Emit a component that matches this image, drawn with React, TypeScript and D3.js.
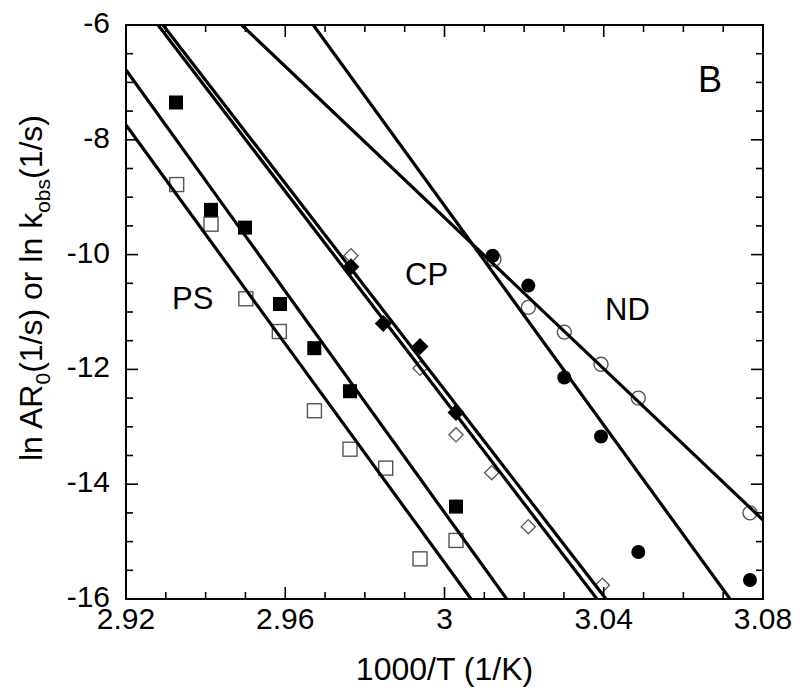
import React from "react";
import * as d3 from "d3";

const psFilledX = [2.93256, 2.94135, 2.94989, 2.95868, 2.9673, 2.97626, 3.00289];
const psFilledY = [-7.35, -9.22, -9.53, -10.86, -11.63, -12.38, -14.39];
const psOpenX = [2.93273, 2.94135, 2.9501, 2.95851, 2.96733, 2.97626, 2.98523, 2.99385, 3.00289];
const psOpenY = [-8.78, -9.47, -10.77, -11.34, -12.72, -13.39, -13.72, -15.3, -14.98];
const cpFilledX = [2.97651, 2.98463, 2.99385, 3.00289];
const cpFilledY = [-10.21, -11.2, -11.6, -12.75];
const cpOpenX = [2.97651, 2.99385, 3.00289, 3.01186, 3.02105, 3.03965];
const cpOpenY = [-10.02, -11.98, -13.14, -13.8, -14.74, -15.76];
const ndFilledX = [3.01209, 3.02105, 3.03009, 3.03931, 3.04868, 3.07673];
const ndFilledY = [-10.02, -10.54, -12.14, -13.17, -15.18, -15.67];
const ndOpenX = [3.01243, 3.02105, 3.03009, 3.03931, 3.04868, 3.07673];
const ndOpenY = [-10.08, -10.92, -11.35, -11.91, -12.5, -14.5];

// fitted lines: [x1, y1, x2, y2]
const fitPSOpen = [2.92, -7.742, 3.00666, -16];
const fitPSFilled = [2.92, -6.784, 3.01563, -16];
const fitCPa = [2.92804, -6, 3.03831, -16];
const fitCPb = [2.92929, -6, 3.04057, -16];
const fitNDOpen = [2.94906, -6, 3.08, -14.624];
const fitNDFilled = [2.96705, -6, 3.07172, -16];

const xTicks = [2.92, 2.96, 3.0, 3.04, 3.08];
const xTickLabels = ["2.92", "2.96", "3", "3.04", "3.08"];
const yTicks = [-6, -8, -10, -12, -14, -16];

const W = 800, H = 692;
const L = 126, T = 25, R = 763, B = 599;
const FONT = "'Liberation Sans', Arial, Helvetica, sans-serif";

export default function App() {
  const x = d3.scaleLinear().domain([2.92, 3.08]).range([L, R]);
  const y = d3.scaleLinear().domain([-16, -6]).range([B, T]);
  const line = d3.line<[number, number]>().x(d => x(d[0])).y(d => y(d[1]));

  const minorX = d3.range(0, 17).map(i => 2.92 + i * 0.01);
  const minorY = d3.range(0, 21).map(i => -16 + i * 0.5);
  const isMajorX = (v: number) => Math.abs(((v - 2.92) / 0.04) - Math.round((v - 2.92) / 0.04)) < 1e-6;
  const isMajorY = (v: number) => Math.abs(v / 2 - Math.round(v / 2)) < 1e-6;

  const fits = [fitPSOpen, fitPSFilled, fitCPa, fitCPb, fitNDOpen, fitNDFilled];

  const pts = (xs: number[], ys: number[]) => xs.map((v, i) => [x(v), y(ys[i])]);

  return (
    <svg width={W} height={H} style={{ position: "absolute", left: 0, top: 0, background: "#fff" }} fontFamily={FONT}>
      <rect x={0} y={0} width={W} height={H} fill="#fff" />
      <defs>
        <clipPath id="plot">
          <rect x={L} y={T} width={R - L} height={B - T} />
        </clipPath>
      </defs>

      {/* markers */}
      <g>
        {pts(psOpenX, psOpenY).map(([cx, cy], i) => (
          <rect key={"pso" + i} x={cx - 7} y={cy - 7} width={14} height={14} fill="#fff" stroke="#555" strokeWidth={1.4} />
        ))}
        {pts(psFilledX, psFilledY).map(([cx, cy], i) => (
          <rect key={"psf" + i} x={cx - 7} y={cy - 7} width={14} height={14} fill="#000" />
        ))}
        {pts(cpOpenX, cpOpenY).map(([cx, cy], i) => (
          <rect key={"cpo" + i} x={-5} y={-5} width={10} height={10} fill="#fff" stroke="#555" strokeWidth={1.3}
            transform={`translate(${cx},${cy}) rotate(45)`} />
        ))}
        {pts(cpFilledX, cpFilledY).map(([cx, cy], i) => (
          <rect key={"cpf" + i} x={-6} y={-6} width={12} height={12} fill="#000"
            transform={`translate(${cx},${cy}) rotate(45)`} />
        ))}
        {pts(ndOpenX, ndOpenY).map(([cx, cy], i) => (
          <circle key={"ndo" + i} cx={cx} cy={cy} r={7} fill="#fff" stroke="#555" strokeWidth={1.4} />
        ))}
        {pts(ndFilledX, ndFilledY).map(([cx, cy], i) => (
          <circle key={"ndf" + i} cx={cx} cy={cy} r={7} fill="#000" />
        ))}
      </g>

      {/* fit lines */}
      <g clipPath="url(#plot)">
        {fits.map((f, i) => (
          <path key={"fit" + i} d={line([[f[0], f[1]], [f[2], f[3]]]) || ""} stroke="#000" strokeWidth={3.2} fill="none" />
        ))}
      </g>

      {/* frame */}
      <rect x={L} y={T} width={R - L} height={B - T} fill="none" stroke="#000" strokeWidth={2} />

      {/* ticks */}
      <g stroke="#000" strokeWidth={1.6}>
        {minorX.map((v, i) => {
          const len = isMajorX(v) ? 12 : 7;
          const px = x(v);
          return (
            <g key={"xt" + i}>
              <line x1={px} x2={px} y1={B} y2={B - len} />
              <line x1={px} x2={px} y1={T} y2={T + len} />
            </g>
          );
        })}
        {minorY.map((v, i) => {
          const len = isMajorY(v) ? 12 : 7;
          const py = y(v);
          return (
            <g key={"yt" + i}>
              <line x1={L} x2={L + len} y1={py} y2={py} />
              <line x1={R} x2={R - len} y1={py} y2={py} />
            </g>
          );
        })}
      </g>

      {/* tick labels */}
      <g fontSize={30} fill="#000">
        {xTicks.map((v, i) => (
          <text key={"xl" + i} x={x(v)} y={629} textAnchor="middle">{xTickLabels[i]}</text>
        ))}
        {yTicks.map((v, i) => (
          <text key={"yl" + i} x={110} y={y(v) + 8} textAnchor="end">{String(v)}</text>
        ))}
      </g>

      {/* axis titles */}
      <text x={(L + R) / 2} y={680} textAnchor="middle" fontSize={32}>1000/T (1/K)</text>
      <text transform={`translate(42,288) rotate(-90)`} textAnchor="middle" fontSize={32}>
        <tspan>ln AR</tspan>
        <tspan fontSize={21} dy={8}>0</tspan>
        <tspan dy={-8}>(1/s) or ln k</tspan>
        <tspan fontSize={21} dy={8}>obs</tspan>
        <tspan dy={-8}>(1/s)</tspan>
      </text>

      {/* annotations */}
      <text x={172} y={309} fontSize={31}>PS</text>
      <text x={405} y={285} fontSize={31}>CP</text>
      <text x={605} y={320} fontSize={31}>ND</text>
      <text x={698} y={92} fontSize={36}>B</text>
    </svg>
  );
}
